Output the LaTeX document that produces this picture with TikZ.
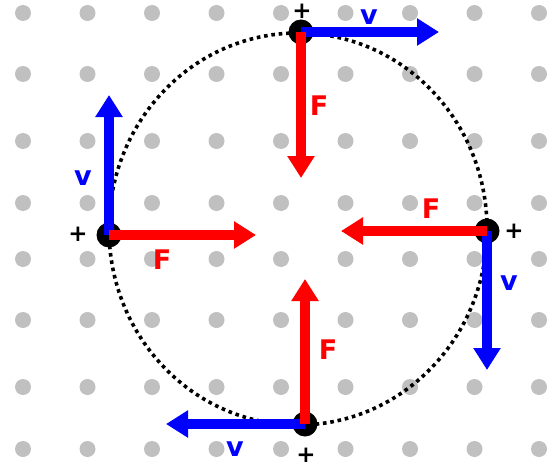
\documentclass[tikz,border=0pt]{standalone}
\usepackage{fontspec}
\setmainfont{DejaVu Sans}
\usetikzlibrary{arrows.meta}
\definecolor{dotgray}{RGB}{192,192,192}
\definecolor{vblue}{RGB}{0,0,255}
\definecolor{fred}{RGB}{255,0,0}
\tikzset{
  griddot/.style={circle,fill=dotgray,inner sep=0pt,minimum size=16pt},
  charge/.style={circle,fill=black,inner sep=0pt,minimum size=25pt},
  vec/.style={line width=10.5pt,-{Triangle[length=22pt,width=26pt]}},
  vvec/.style={vec,draw=vblue},
  fvec/.style={vec,draw=fred},
  vlab/.style={text=vblue,font=\fontsize{27}{29}\selectfont\bfseries,inner sep=0pt},
  flab/.style={text=fred,font=\fontsize{27}{29}\selectfont\bfseries,inner sep=0pt},
  plus/.style={text=black,font=\fontsize{23}{25}\selectfont\bfseries,inner sep=0pt},
  orbit/.style={draw=black,line width=3.6pt,dash pattern=on 3.6pt off 3.8pt}
}
\begin{document}
\begin{tikzpicture}[x=1pt,y=-1pt]
\useasboundingbox (0,0) rectangle (556,468);
% grid of dots
\foreach \yy in {13,74,141,203,259,320,387,449}{
  \foreach \i in {0,...,8}{
    \node[griddot] at ({23+64.5*\i},\yy) {};
  }
}
% orbit
\draw[orbit] (298,229) ellipse [x radius=189, y radius=196];
% charges
\node[charge] (pT) at (301,32) {};
\node[charge] (pR) at (487,231) {};
\node[charge] (pB) at (305,424) {};
\node[charge] (pL) at (109,235) {};
% arrow tips
\coordinate (vT) at (439,32);
\coordinate (fT) at (301,178);
\coordinate (vR) at (487,370);
\coordinate (fR) at (341,231);
\coordinate (vB) at (166,424);
\coordinate (fB) at (305,279);
\coordinate (vL) at (109,95);
\coordinate (fL) at (256,235);
% velocities
\draw[vvec] (pT.center) -- (vT);
\draw[vvec] (pR.center) -- (vR);
\draw[vvec] (pB.center) -- (vB);
\draw[vvec] (pL.center) -- (vL);
% forces
\draw[fvec] (pT.center) -- (fT);
\draw[fvec] (pR.center) -- (fR);
\draw[fvec] (pB.center) -- (fB);
\draw[fvec] (pL.center) -- (fL);
% labels
\node[vlab] (lvT) at (369,17) {v};
\node[flab] (lfT) at (319,106) {F};
\node[flab] (lfR) at (431,209) {F};
\node[vlab] (lvR) at (509,283) {v};
\node[flab] (lfB) at (328,350) {F};
\node[vlab] (lvB) at (235,449) {v};
\node[vlab] (lvL) at (83,178) {v};
\node[flab] (lfL) at (162,260) {F};
% plus signs
\node[plus] (sT) at (302,11) {+};
\node[plus] (sR) at (514,231) {+};
\node[plus] (sB) at (306,455) {+};
\node[plus] (sL) at (78,234) {+};
\end{tikzpicture}
\end{document}
